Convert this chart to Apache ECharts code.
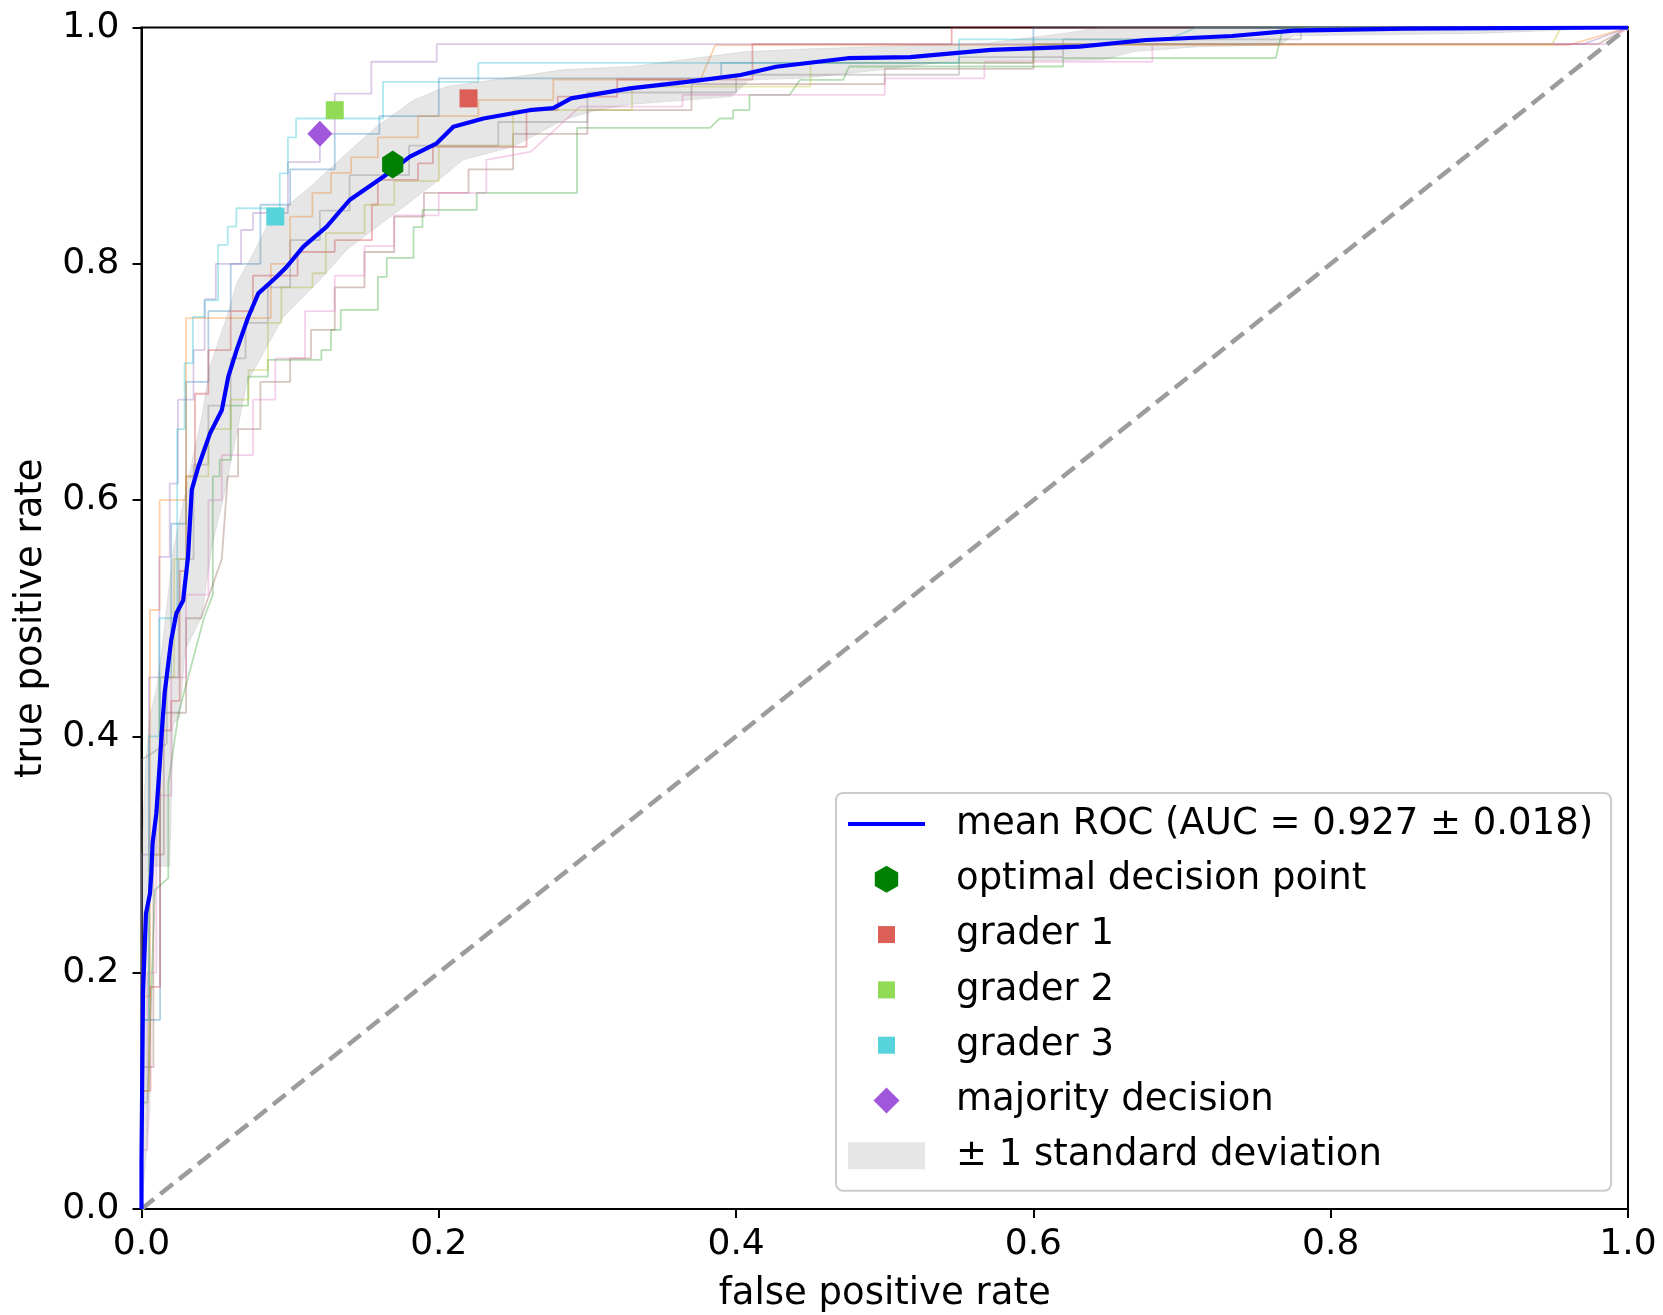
<!DOCTYPE html>
<html>
<head>
<meta charset="utf-8">
<title>ROC</title>
<script src="https://cdn.jsdelivr.net/npm/echarts@6/dist/echarts.min.js"></script>
<style>
  html, body { margin: 0; padding: 0; background: #fff; }
  #chart { width: 1663px; height: 1315px; }
</style>
</head>
<body>
<div id="chart"></div>
<script>
// tick labels
const ticks = [0, 0.2, 0.4, 0.6, 0.8, 1.0]

// single folds (step curves), fpr / tpr
const roc0Fpr = [0, 0, 0.0125, 0.0125, 0.02, 0.02, 0.03, 0.03, 0.045, 0.045, 0.06, 0.06, 0.08, 0.08, 0.1, 0.1, 0.13, 0.13, 0.16, 0.16, 0.2, 0.2, 0.39, 0.39, 0.6, 0.6, 1]
const roc0Tpr = [0, 0.16, 0.16, 0.45, 0.45, 0.58, 0.58, 0.7, 0.7, 0.76, 0.76, 0.8, 0.8, 0.85, 0.85, 0.88, 0.88, 0.91, 0.91, 0.925, 0.925, 0.957, 0.957, 0.97, 0.97, 1, 1]
const roc1Fpr = [0, 0, 0.0057, 0.0057, 0.0122, 0.0122, 0.03, 0.03, 0.087, 0.087, 0.1, 0.1, 0.115, 0.115, 0.1275, 0.1275, 0.141, 0.141, 0.159, 0.159, 0.186, 0.186, 0.2266, 0.2266, 0.277, 0.277, 0.376, 0.386, 0.96, 1]
const roc1Tpr = [0, 0.18, 0.18, 0.507, 0.507, 0.6, 0.6, 0.754, 0.754, 0.8, 0.8, 0.84, 0.84, 0.86, 0.86, 0.877, 0.877, 0.89, 0.89, 0.907, 0.907, 0.925, 0.925, 0.9386, 0.9386, 0.956, 0.956, 0.985, 0.985, 1]
const roc2Fpr = [0, 0, 0.004, 0.009, 0.018, 0.018, 0.025, 0.042, 0.048, 0.048, 0.0526, 0.0526, 0.06, 0.06, 0.0717, 0.0717, 0.085, 0.085, 0.121, 0.121, 0.1275, 0.1275, 0.134, 0.134, 0.159, 0.159, 0.165, 0.165, 0.183, 0.183, 0.189, 0.189, 0.2255, 0.2255, 0.293, 0.293, 0.3825, 0.389, 0.398, 0.398, 0.409, 0.409, 0.436, 0.443, 0.472, 0.476, 0.62, 0.62, 0.763, 0.768, 1]
const roc2Tpr = [0, 0.09, 0.09, 0.27, 0.28, 0.36, 0.42, 0.5, 0.52, 0.62, 0.62, 0.634, 0.634, 0.68, 0.68, 0.7045, 0.7045, 0.7186, 0.7186, 0.727, 0.727, 0.744, 0.744, 0.761, 0.761, 0.789, 0.789, 0.805, 0.805, 0.831, 0.831, 0.8456, 0.8456, 0.86, 0.86, 0.915, 0.915, 0.923, 0.923, 0.93, 0.93, 0.943, 0.943, 0.9556, 0.9556, 0.967, 0.967, 0.974, 0.974, 1, 1]
const roc3Fpr = [0, 0, 0.006, 0.006, 0.0125, 0.0125, 0.02, 0.02, 0.0257, 0.0257, 0.03, 0.03, 0.036, 0.036, 0.045, 0.045, 0.06, 0.06, 0.075, 0.075, 0.105, 0.105, 0.13, 0.13, 0.155, 0.155, 0.159, 0.159, 0.186, 0.186, 0.196, 0.196, 0.259, 0.259, 0.28, 0.28, 0.32, 0.32, 0.411, 0.411, 0.545, 0.545, 1]
const roc3Tpr = [0, 0.1, 0.1, 0.188, 0.188, 0.405, 0.405, 0.43, 0.43, 0.54, 0.54, 0.62, 0.62, 0.69, 0.69, 0.727, 0.727, 0.76, 0.76, 0.79, 0.79, 0.81, 0.81, 0.82, 0.82, 0.85, 0.85, 0.871, 0.871, 0.885, 0.885, 0.899, 0.899, 0.93, 0.93, 0.9415, 0.9415, 0.956, 0.956, 0.986, 0.986, 1, 1]
const roc4Fpr = [0, 0, 0.005, 0.005, 0.012, 0.012, 0.019, 0.019, 0.0245, 0.0245, 0.035, 0.035, 0.0425, 0.0425, 0.05, 0.05, 0.067, 0.067, 0.075, 0.075, 0.0985, 0.0985, 0.12, 0.12, 0.13, 0.13, 0.1546, 0.1546, 0.1986, 0.1986, 0.97, 1]
const roc4Tpr = [0, 0.3, 0.3, 0.45, 0.45, 0.552, 0.552, 0.614, 0.614, 0.685, 0.685, 0.727, 0.727, 0.77, 0.77, 0.8, 0.8, 0.8286, 0.8286, 0.843, 0.843, 0.886, 0.886, 0.91, 0.91, 0.944, 0.944, 0.971, 0.971, 0.986, 0.986, 1]
const roc5Fpr = [0, 0, 0.008, 0.008, 0.015, 0.015, 0.03, 0.03, 0.04, 0.054, 0.058, 0.065, 0.065, 0.08, 0.08, 0.1, 0.1, 0.114, 0.114, 0.13, 0.13, 0.15, 0.15, 0.17, 0.17, 0.19, 0.19, 0.22, 0.22, 0.25, 0.25, 0.3, 0.3, 0.37, 0.37, 0.5, 0.5, 0.6, 0.6, 0.98, 1]
const roc5Tpr = [0, 0.12, 0.12, 0.3, 0.3, 0.42, 0.42, 0.5, 0.5, 0.55, 0.62, 0.62, 0.66, 0.66, 0.7, 0.7, 0.72, 0.72, 0.744, 0.744, 0.78, 0.78, 0.81, 0.81, 0.84, 0.84, 0.86, 0.86, 0.88, 0.88, 0.91, 0.91, 0.93, 0.93, 0.952, 0.952, 0.965, 0.965, 0.986, 0.986, 1]
const roc6Fpr = [0, 0, 0.004, 0.004, 0.01, 0.01, 0.02, 0.02, 0.03, 0.03, 0.045, 0.045, 0.054, 0.054, 0.075, 0.075, 0.09, 0.09, 0.11, 0.11, 0.13, 0.13, 0.15, 0.15, 0.17, 0.17, 0.2, 0.2, 0.232, 0.232, 0.262, 0.295, 0.364, 0.364, 0.5, 0.5, 0.567, 0.567, 0.68, 0.68, 0.985, 1]
const roc6Tpr = [0, 0.05, 0.05, 0.2, 0.2, 0.35, 0.35, 0.45, 0.45, 0.52, 0.52, 0.6, 0.6, 0.638, 0.638, 0.685, 0.685, 0.72, 0.72, 0.76, 0.76, 0.79, 0.79, 0.815, 0.815, 0.841, 0.841, 0.86, 0.86, 0.888, 0.895, 0.933, 0.933, 0.943, 0.943, 0.957, 0.957, 0.971, 0.971, 0.986, 0.986, 1]
const roc7Fpr = [0, 0, 0.017, 0.017, 0.025, 0.025, 0.035, 0.035, 0.045, 0.045, 0.06, 0.06, 0.07, 0.07, 0.085, 0.085, 0.1, 0.1, 0.12, 0.12, 0.14, 0.14, 0.18, 0.18, 0.24, 0.24, 0.3, 0.3, 0.4, 0.4, 0.55, 0.55, 0.62, 0.62, 0.78, 0.78, 1]
const roc7Tpr = [0, 0.38, 0.394, 0.45, 0.45, 0.55, 0.55, 0.63, 0.63, 0.68, 0.68, 0.72, 0.72, 0.75, 0.75, 0.78, 0.78, 0.82, 0.82, 0.845, 0.845, 0.875, 0.875, 0.9, 0.9, 0.92, 0.92, 0.945, 0.945, 0.96, 0.96, 0.975, 0.975, 0.99, 0.99, 1, 1]
const roc8Fpr = [0, 0, 0.005, 0.005, 0.012, 0.012, 0.022, 0.022, 0.03, 0.03, 0.045, 0.045, 0.06, 0.06, 0.072, 0.072, 0.085, 0.085, 0.094, 0.094, 0.115, 0.115, 0.124, 0.124, 0.15, 0.15, 0.17, 0.17, 0.2, 0.2, 0.25, 0.25, 0.33, 0.33, 0.45, 0.45, 0.6, 0.6, 0.949, 0.955, 1]
const roc8Tpr = [0, 0.1, 0.1, 0.3, 0.3, 0.45, 0.45, 0.55, 0.55, 0.62, 0.62, 0.66, 0.66, 0.685, 0.685, 0.71, 0.71, 0.75, 0.75, 0.78, 0.78, 0.792, 0.792, 0.826, 0.826, 0.85, 0.85, 0.87, 0.87, 0.9, 0.9, 0.93, 0.93, 0.95, 0.95, 0.97, 0.97, 0.986, 0.986, 1, 1]
const roc9Fpr = [0, 0, 0.005, 0.005, 0.012, 0.012, 0.024, 0.024, 0.029, 0.029, 0.0346, 0.0346, 0.0425, 0.0425, 0.0515, 0.0515, 0.058, 0.058, 0.0638, 0.0638, 0.093, 0.093, 0.0985, 0.0985, 0.104, 0.104, 0.1625, 0.1625, 0.2266, 0.2266, 0.55, 0.55, 0.69, 0.71, 1]
const roc9Tpr = [0, 0.16, 0.16, 0.4, 0.4, 0.5, 0.5, 0.66, 0.66, 0.716, 0.716, 0.755, 0.755, 0.769, 0.769, 0.816, 0.816, 0.8314, 0.8314, 0.847, 0.847, 0.8766, 0.8766, 0.907, 0.907, 0.923, 0.923, 0.954, 0.954, 0.97, 0.97, 0.99, 0.99, 1, 1]

// mean ROC
const meanFpr = [0, 0, 0.001, 0.003, 0.0057, 0.0066, 0.0075, 0.010, 0.0122, 0.0136, 0.0156, 0.02, 0.0234, 0.028, 0.0313, 0.0338, 0.0382, 0.0461, 0.054, 0.0584, 0.064, 0.0718, 0.0786, 0.091, 0.0977, 0.1089, 0.1246, 0.140, 0.1627, 0.1806, 0.1986, 0.2098, 0.23, 0.261, 0.277, 0.289, 0.3286, 0.367, 0.403, 0.427, 0.475, 0.517, 0.5715, 0.631, 0.676, 0.7336, 0.775, 0.85, 1.0]
const meanTpr = [0, 0.041, 0.183, 0.25, 0.267, 0.284, 0.31, 0.335, 0.375, 0.403, 0.437, 0.4816, 0.504, 0.515, 0.552, 0.6086, 0.628, 0.6565, 0.676, 0.7045, 0.727, 0.755, 0.775, 0.789, 0.7975, 0.8145, 0.8314, 0.854, 0.8737, 0.8907, 0.902, 0.916, 0.923, 0.930, 0.9317, 0.940, 0.9485, 0.954, 0.9598, 0.9668, 0.974, 0.975, 0.981, 0.9838, 0.9894, 0.9928, 0.9973, 0.999, 1.0]

// +/- 1 std band edges
const upperFpr = [0, 0.003, 0.006, 0.01, 0.0136, 0.0214, 0.0326, 0.0405, 0.046, 0.0573, 0.064, 0.0752, 0.0864, 0.1133, 0.138, 0.158, 0.183, 0.205, 0.25, 0.284, 0.33, 0.406, 0.45, 0.57, 0.62, 0.645, 1]
const upperTpr = [0.3, 0.38, 0.42, 0.44, 0.473, 0.558, 0.625, 0.6706, 0.713, 0.755, 0.7835, 0.809, 0.837, 0.865, 0.8935, 0.916, 0.9386, 0.95, 0.958, 0.9644, 0.967, 0.9796, 0.982, 0.987, 0.995, 1, 1]
const lowerFpr = [0, 0.0057, 0.0057, 0.019, 0.0214, 0.0259, 0.0293, 0.0405, 0.047, 0.0573, 0.0663, 0.0708, 0.0954, 0.118, 0.138, 0.194, 0.2165, 0.25, 0.284, 0.306, 0.33, 0.361, 0.397, 0.409, 0.445, 0.4965, 0.5415, 0.6466, 0.6677, 0.712, 0.765, 0.775, 0.9, 1]
const lowerTpr = [0, 0.084, 0.29, 0.29, 0.41, 0.4167, 0.473, 0.501, 0.558, 0.614, 0.6706, 0.699, 0.755, 0.7835, 0.8117, 0.865, 0.888, 0.899, 0.9217, 0.93, 0.935, 0.938, 0.9415, 0.9555, 0.957, 0.964, 0.971, 0.9725, 0.9796, 0.9838, 0.985, 0.993, 0.995, 1]

// chance line
const chanceFpr = [0, 1]
const chanceTpr = [0, 1]

// operating points
const optimalFpr = [0.169]
const optimalTpr = [0.884]
const grader1Fpr = [0.22]
const grader1Tpr = [0.94]
const grader2Fpr = [0.13]
const grader2Tpr = [0.93]
const grader3Fpr = [0.09]
const grader3Tpr = [0.84]
const majorityFpr = [0.12]
const majorityTpr = [0.91]

const foldColors = ['#1f77b4', '#ff7f0e', '#2ca02c', '#d62728', '#9467bd', '#8c564b', '#e377c2', '#7f7f7f', '#bcbd22', '#17becf']
const folds = [
  [roc0Fpr, roc0Tpr], [roc1Fpr, roc1Tpr], [roc2Fpr, roc2Tpr], [roc3Fpr, roc3Tpr], [roc4Fpr, roc4Tpr],
  [roc5Fpr, roc5Tpr], [roc6Fpr, roc6Tpr], [roc7Fpr, roc7Tpr], [roc8Fpr, roc8Tpr], [roc9Fpr, roc9Tpr]
]

const FONT = 'DejaVu Sans'
const pairs = (xs, ys) => xs.map((x, i) => [x, ys[i]])

const hexPath = 'path://M12.12,0L24.25,7L24.25,21L12.12,28L0,21L0,7Z'
// padded paths so legend icons keep their own size
const sqIcon = 'path://M0,0M27,27M5,5L22,5L22,22L5,22Z'
const diaIcon = 'path://M0,0M27,27M13.5,0.5L26.5,13.5L13.5,26.5L0.5,13.5Z'
const lineIcon = 'path://M0,0M77,27M0,11.5L77,11.5L77,15.5L0,15.5Z'

const names = {
  mean: 'mean ROC (AUC = 0.927 ± 0.018)',
  opt: 'optimal decision point',
  g1: 'grader 1',
  g2: 'grader 2',
  g3: 'grader 3',
  maj: 'majority decision',
  std: '± 1 standard deviation'
}

const series = []
folds.forEach((f, i) => {
  series.push({
    type: 'line',
    name: 'fold ' + i,
    data: pairs(f[0], f[1]),
    showSymbol: false,
    symbol: 'none',
    lineStyle: { color: foldColors[i], width: 1.8, opacity: 0.35 },
    z: 2,
    silent: true
  })
})

series.push({
  type: 'line',
  name: 'chance',
  data: pairs(chanceFpr, chanceTpr),
  symbol: 'none',
  lineStyle: { color: '#9c9c9c', width: 4.5, type: [16, 8] },
  z: 2,
  silent: true
})

series.push({
  type: 'custom',
  name: names.std,
  data: [[0, 0]],
  itemStyle: { color: 'rgba(128,128,128,0.2)' },
  renderItem: (params, api) => {
    const pts = []
    for (let i = 0; i < upperFpr.length; i++) pts.push(api.coord([upperFpr[i], upperTpr[i]]))
    for (let i = lowerFpr.length - 1; i >= 0; i--) pts.push(api.coord([lowerFpr[i], lowerTpr[i]]))
    return {
      type: 'polygon',
      shape: { points: pts },
      style: { fill: 'rgba(128,128,128,0.2)', stroke: 'rgba(128,128,128,0.15)', lineWidth: 1 }
    }
  },
  z: 3,
  silent: true
})

series.push({
  type: 'line',
  name: names.mean,
  data: pairs(meanFpr, meanTpr),
  symbol: 'none',
  color: '#0000ff',
  itemStyle: { color: '#0000ff' },
  lineStyle: { color: '#0000ff', width: 4.2 },
  z: 4,
  silent: true
})

const pointSeries = (name, xs, ys, color, symbol, size) => ({
  type: 'scatter',
  name,
  data: pairs(xs, ys),
  symbol,
  symbolSize: size,
  symbolKeepAspect: true,
  itemStyle: { color, opacity: 1 },
  z: 5,
  silent: true
})
series.push(pointSeries(names.opt, optimalFpr, optimalTpr, '#008000', hexPath, [24.5, 28]))
series.push(pointSeries(names.g1, grader1Fpr, grader1Tpr, '#db5f57', 'rect', 18))
series.push(pointSeries(names.g2, grader2Fpr, grader2Tpr, '#91db57', 'rect', 18))
series.push(pointSeries(names.g3, grader3Fpr, grader3Tpr, '#57d3db', 'rect', 18))
series.push(pointSeries(names.maj, majorityFpr, majorityTpr, '#a157db', 'diamond', [25, 26]))

const axisCommon = {
  type: 'value',
  min: 0,
  max: 1,
  interval: 0.2,
  nameLocation: 'middle',
  nameTextStyle: { fontFamily: FONT, fontSize: 37, color: '#000' },
  axisLine: { show: true, lineStyle: { color: '#000', width: 2 } },
  axisTick: { show: true, inside: false, length: 9, lineStyle: { color: '#000', width: 2 } },
  splitLine: { show: false },
  axisLabel: {
    fontFamily: FONT, fontSize: 36, color: '#000',
    showMinLabel: true, showMaxLabel: true,
    formatter: v => ticks.includes(+v.toFixed(1)) ? v.toFixed(1) : ''
  }
}

const option = {
  animation: false,
  backgroundColor: '#fff',
  grid: {
    left: 141.5, right: 35, top: 27.5, bottom: 106,
    show: true, borderColor: '#000', borderWidth: 2,
    containLabel: false, outerBoundsMode: 'none'
  },
  xAxis: Object.assign({}, axisCommon, {
    name: 'false positive rate',
    nameGap: 67,
    axisLabel: Object.assign({}, axisCommon.axisLabel, { margin: 18 })
  }),
  yAxis: Object.assign({}, axisCommon, {
    name: 'true positive rate',
    nameGap: 92,
    axisLabel: Object.assign({}, axisCommon.axisLabel, { margin: 22 })
  }),
  legend: {
    orient: 'vertical',
    left: 836,
    top: 793,
    padding: [12.5, 18, 16.5, 12],
    itemWidth: 77,
    itemHeight: 27,
    itemGap: 18.3,
    selectedMode: false,
    backgroundColor: 'rgba(255,255,255,0.8)',
    borderColor: '#cccccc',
    borderWidth: 2,
    borderRadius: 7,
    textStyle: { fontFamily: FONT, fontSize: 37, color: '#000', lineHeight: 37, padding: [0, 0, 0, 26] },
    data: [
      { name: names.mean, icon: lineIcon },
      { name: names.opt, icon: hexPath },
      { name: names.g1, icon: sqIcon },
      { name: names.g2, icon: sqIcon },
      { name: names.g3, icon: sqIcon },
      { name: names.maj, icon: diaIcon },
      { name: names.std, icon: 'rect' }
    ]
  },
  series
}

const chart = echarts.init(document.getElementById('chart'), null, { renderer: 'canvas' })
chart.setOption(option)
</script>
</body>
</html>
